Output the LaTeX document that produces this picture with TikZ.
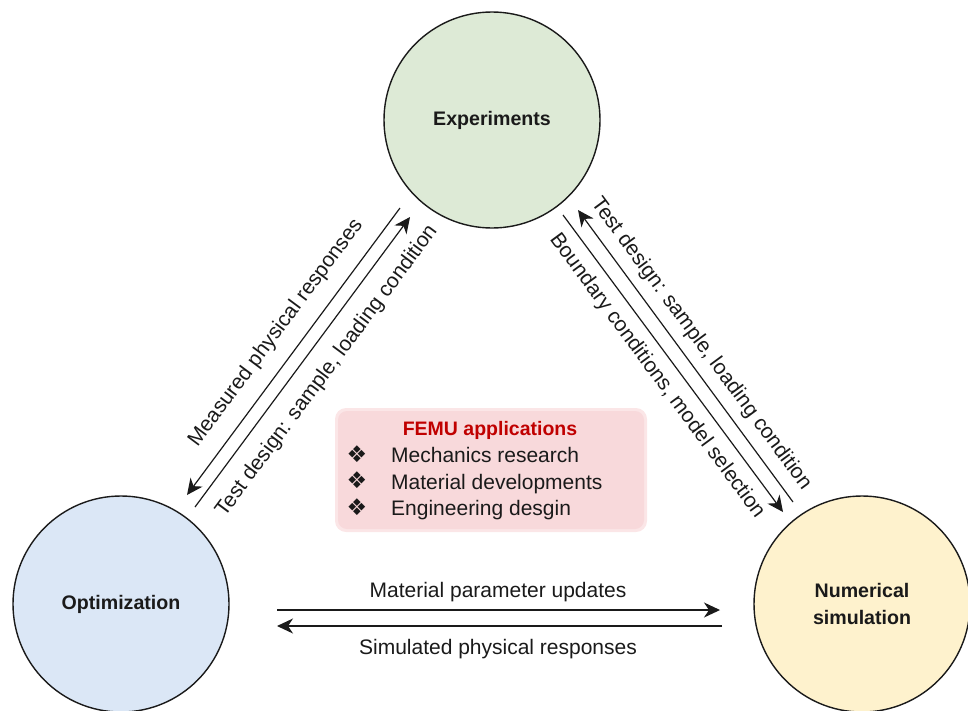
\documentclass[tikz,border=0pt]{standalone}
\usepackage{fontspec}
\setmainfont{Liberation Sans}
\newfontfamily\symfont{DejaVu Sans}
\usetikzlibrary{arrows.meta}

\definecolor{expfill}{HTML}{DDEAD6}
\definecolor{optfill}{HTML}{DBE7F6}
\definecolor{numfill}{HTML}{FEF2CD}
\definecolor{femubg}{HTML}{F8D9DB}
\definecolor{femuedge}{HTML}{FBE6E7}
\definecolor{femured}{HTML}{C00000}
\definecolor{ink}{HTML}{1A1A1A}

\begin{document}
\begin{tikzpicture}[x=1pt,y=-1pt,
  stage/.style={circle, draw=ink, line width=1.4pt, minimum size=216pt,
    inner sep=0pt, align=center, text=ink,
    font=\fontsize{19.6}{27}\selectfont\bfseries},
  flow/.style={draw=ink, line width=1.2pt,
    -{Stealth[length=16pt,width=15pt,inset=5pt]}},
  lbl/.style={text=ink, inner sep=0pt, font=\fontsize{21}{25}\selectfont},
  bullet/.style={text=ink, inner sep=0pt, font=\symfont\fontsize{23}{23}\selectfont},
]
\useasboundingbox (0,0) rectangle (968,710);

% the three stages
\node[stage, fill=expfill] (exp) at (492,120) {Experiments};
\node[stage, fill=optfill] (opt) at (121,604) {Optimization};
\node[stage, fill=numfill] (num) at (862,604) {Numerical\\simulation};

% application box
\node[fill=femuedge, rounded corners=11pt, minimum width=312pt,
      minimum height=124pt, inner sep=0pt] (femuhalo) at (491,470) {};
\node[fill=femubg, rounded corners=9pt, minimum width=306pt,
      minimum height=118pt, inner sep=0pt] (femu) at (491,470) {};
\node[anchor=base, inner sep=0pt, text=femured,
      font=\fontsize{19.5}{24}\selectfont\bfseries] (femut) at (490,435) {FEMU applications};
\node[bullet] (b1) at (357,454) {❖};
\node[bullet] (b2) at (357,480.5) {❖};
\node[bullet] (b3) at (357,507.5) {❖};
\node[lbl, anchor=base west] (i1) at (391,462.5) {Mechanics research};
\node[lbl, anchor=base west] (i2) at (391,489) {Material developments};
\node[lbl, anchor=base west] (i3) at (391,515.5) {Engineering desgin};

% connector end points
\coordinate (l1s) at (400,208);
\coordinate (l1e) at (187,495);
\coordinate (l2s) at (195,507);
\coordinate (l2e) at (410,217);
\coordinate (r1s) at (793,502);
\coordinate (r1e) at (578,210);
\coordinate (r2s) at (563,215);
\coordinate (r2e) at (783,512);
\coordinate (h1s) at (277,610);
\coordinate (h1e) at (720,610);
\coordinate (h2s) at (722,626);
\coordinate (h2e) at (277,626);

% connectors
\draw[flow] (l1s) -- (l1e);
\draw[flow] (l2s) -- (l2e);
\draw[flow] (r1s) -- (r1e);
\draw[flow] (r2s) -- (r2e);
\draw[flow] (h1s) -- (h1e);
\draw[flow] (h2s) -- (h2e);

% connector labels
\node[lbl, rotate=53.4] (t1) at (276,333) {Measured physical responses};
\node[lbl, rotate=53.4] (t2) at (327,371) {Test design: sample, loading condition};
\node[lbl, rotate=-53.6] (t3) at (701,344) {Test design: sample, loading condition};
\node[lbl, rotate=-53.6] (t4) at (657,376) {Boundary conditions, model selection};
\node[lbl, anchor=base] (t5) at (498,597) {Material parameter updates};
\node[lbl, anchor=base] (t6) at (498,654) {Simulated physical responses};
\end{tikzpicture}
\end{document}
